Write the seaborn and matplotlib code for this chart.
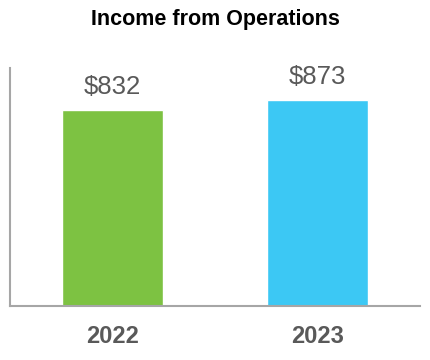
import pandas as pd
import seaborn as sns
import matplotlib.pyplot as plt

# === data ===
years = ["2022", "2023"]
income = [832, 873]
bar_colors = ["#7DC242", "#3CC8F4"]

df = pd.DataFrame({"Year": years, "Income": income})

sns.set_theme(style="white")
plt.rcParams["font.family"] = ["Liberation Sans", "DejaVu Sans"]

fig = plt.figure(figsize=(4.3, 3.6), dpi=100)
ax = fig.add_axes([10 / 430, 54 / 360, 410 / 430, 238 / 360])

sns.barplot(
    data=df, x="Year", y="Income", hue="Year",
    palette=dict(zip(years, bar_colors)),
    width=0.49, saturation=1, legend=False, ax=ax,
)

ax.set_ylim(0, 1010)
ax.set_xlim(-0.5, 1.5)
ax.set_xlabel("")
ax.set_ylabel("")
ax.set_yticks([])

for c in ax.containers:
    ax.bar_label(c, labels=[f"${v:.0f}" for v in c.datavalues],
                 padding=8, fontsize=18.5, color="#595959")

ax.tick_params(axis="x", length=0, pad=14, labelsize=17, labelcolor="#595959")
for lbl in ax.get_xticklabels():
    lbl.set_fontweight("bold")

for side in ["top", "right"]:
    ax.spines[side].set_visible(False)
for side in ["left", "bottom"]:
    ax.spines[side].set_color("#A6A6A6")
    ax.spines[side].set_linewidth(1.5)

fig.text(0.5, 1 - 19 / 360, "Income from Operations", ha="center", va="center",
         fontsize=15.5, fontweight="bold", color="black")

fig.savefig("out.png", dpi=100)
